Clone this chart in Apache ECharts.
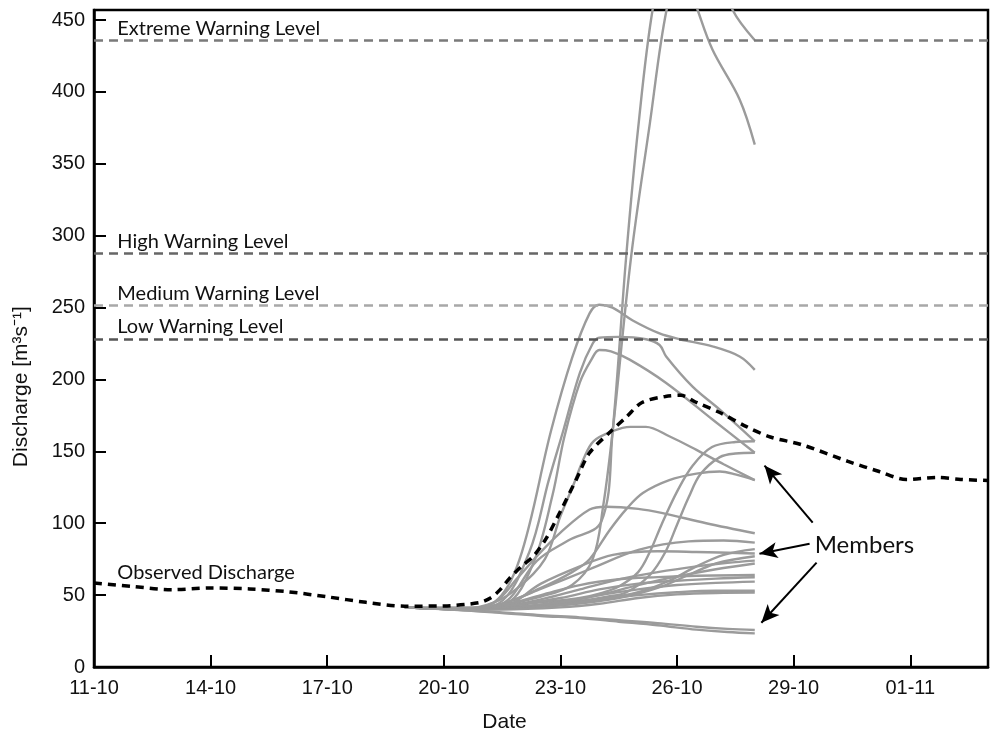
<!DOCTYPE html>
<html><head><meta charset="utf-8">
<script src="https://cdn.jsdelivr.net/npm/echarts@6/dist/echarts.min.js"></script>
<style>html,body{margin:0;padding:0;background:#fff}#c{width:998px;height:741px}</style>
</head><body><div id="c"></div>
<script>
// ---------- DATA ----------
const tickLabels = ['11-10','14-10','17-10','20-10','23-10','26-10','29-10','01-11'];
const yTickValues = [0,50,100,150,200,250,300,350,400,450];

const obsDays   = [0, 1, 2, 3, 4, 5, 6, 7, 8, 9, 9.9, 10.2, 10.45, 10.7, 11.0, 11.3, 11.6, 11.9, 12.4, 12.75, 13.3, 13.7, 14.1, 14.7, 15.1, 15.5, 16.1, 16.8, 17.4, 18.2, 19.4, 20.2, 20.9, 21.7, 22.3, 23];
const obsValues = [58.5, 56, 53.8, 55, 54.3, 52.3, 48.8, 45, 42.3, 42.5, 44.7, 48, 53.8, 62, 70, 77, 88, 103, 130, 149, 164, 174, 184, 188.2, 189, 184, 177, 167, 160, 154.7, 143, 136, 130.4, 131.8, 130.5, 129.7];

const memberP1 = [[8,41.5],[9.5,41],[10.3,45],[10.95,75],[11.76,164.5],[12.3,215],[12.75,246],[13.0,252],[13.34,250],[13.86,241],[14.55,232],[15.07,228],[15.91,223],[16.61,216],[17.0,206.7]];
const memberP2 = [[8,41.5],[9.5,40.5],[10.4,44],[11.2,80],[11.7,130],[12.08,165],[12.5,204.6],[12.83,225],[13.0,229],[13.5,229.6],[14.2,228],[14.55,224],[14.72,216],[15.4,195],[16.1,179],[17.0,157]];
const memberP3 = [[8,41.5],[9.5,40.5],[10.6,44],[11.3,72],[11.8,120],[12.1,160],[12.5,198],[12.8,214],[13.0,220.5],[13.3,219.5],[13.78,213.8],[14.72,197.6],[15.92,172],[17.0,149]];
const memberA  = [[8,41.5],[9.5,40.5],[10.5,44],[11.4,74],[12.2,88],[13.05,101],[13.34,163],[13.69,285],[14.0,375],[14.37,457],[14.7,490],[15.0,492],[15.3,476],[15.53,457],[15.91,429.5],[16.61,394.8],[17.0,363.4]];
const memberB  = [[8,41.5],[9.5,40.5],[10.5,43],[11.5,49],[12.3,57],[12.83,75],[13.1,112],[13.34,163],[13.82,285.7],[14.3,378],[14.73,457],[15.2,500],[15.6,510],[16.0,490],[16.43,457],[17.0,436]];
const memberM1 = [[8,41.5],[9.5,40.5],[10.3,45],[10.9,55],[11.6,75],[12.0,105],[12.32,125.7],[12.6,145],[12.85,157],[13.34,164],[13.8,167],[14.2,167],[14.8,160.5],[15.5,151],[16.2,141],[17.0,130]];
const memberM3 = [[8,41.5],[9.5,40.5],[10.4,43],[11.5,55],[12.3,66],[12.75,75],[13.26,95],[13.7,110],[14.12,121],[14.8,130],[15.5,134.5],[16.1,136],[16.5,134],[17.0,130]];
const memberM4 = [[8,41.5],[9.5,40.5],[10.3,45],[10.9,62],[11.46,79],[11.98,93],[12.75,109.5],[13.18,111.5],[14.0,110],[14.63,107],[15.75,100],[17.0,93]];
const memberL1 = [[8,41.5],[9.5,40],[10.5,42],[11.5,45],[12.5,48],[13.0,51],[13.5,56],[14.0,66],[14.3,80],[14.6,99],[15.0,122],[15.4,140],[15.9,153],[16.5,156.5],[17.0,157]];
const memberL2 = [[8,41.5],[9.5,40],[10.5,41],[11.5,43],[12.5,46],[13.2,49],[13.7,52],[14.3,64],[14.7,80],[15.0,99],[15.3,118],[15.6,134],[16.1,146],[16.5,148.5],[17.0,149]];
const memberB1 = [[8,41.5],[9.5,41],[10.5,44],[11.46,54],[12.75,68],[14.03,81.6],[15.3,87.4],[16.2,88],[17.0,86.5]];
const memberB2 = [[8,41.5],[9.5,40.5],[10.5,41],[12.0,44],[13.0,47],[14.0,52],[14.8,60],[15.5,70],[16.2,78],[17.0,82]];
const memberB3 = [[8,41.5],[9.5,41],[10.5,42],[11.5,58],[12.5,70],[13.35,78],[14.5,80.5],[15.5,80],[17.0,79]];
const memberB4 = [[8,41.5],[9.5,40.5],[10.5,41],[12.0,43],[13.5,48],[14.5,55],[15.3,64],[16.0,72],[17.0,77]];
const memberB5 = [[8,41.5],[9.5,40.5],[10.5,42],[11.5,47],[12.5,54],[13.5,61],[14.5,66],[15.5,70],[16.3,72.5],[17.0,74]];
const memberB6 = [[8,41.5],[9.5,40.5],[10.5,41],[12.0,45],[13.0,50],[14.0,57],[15.0,63],[16.0,68],[17.0,72]];
const memberB7 = [[8,41.5],[9.5,41],[10.5,43],[11.5,50],[12.5,57],[13.5,61],[14.5,62.5],[15.5,63.5],[17.0,64]];
const memberB8 = [[8,41.5],[9.5,40.5],[10.5,42],[12.0,48],[13.0,54],[14.0,58],[15.0,60],[16.0,61.5],[17.0,62.4]];
const memberB9 = [[8,41.5],[9.5,40.5],[10.5,41],[12.0,45],[13.0,50],[14.0,54],[15.0,57],[16.0,58.5],[17.0,59.4]];
const memberB10 = [[8,41.5],[9.5,40],[10.5,40.5],[12.0,43],[13.0,47],[14.0,50],[15.0,52],[16.0,53],[17.0,53]];
const memberB11 = [[8,41.5],[9.5,40],[10.5,40],[12.0,41.5],[13.0,44],[14.0,48],[15.0,50.5],[16.0,51.5],[17.0,51.7]];
const memberB12 = [[8,41.5],[9.5,39.5],[10.5,38],[11.5,36],[12.5,34.5],[13.5,32.5],[14.5,30.5],[15.5,28],[16.3,26.5],[17.0,25.7]];
const memberB13 = [[8,41.5],[9.5,39.5],[10.5,37.5],[11.5,35.5],[12.5,34],[13.5,31.5],[14.5,29],[15.5,26],[16.3,24.3],[17.0,23.4]];

const members = [memberP1, memberP2, memberP3, memberA, memberB, memberM1, memberM3, memberM4, memberL1, memberL2,
  memberB1, memberB2, memberB3, memberB4, memberB5, memberB6, memberB7, memberB8, memberB9, memberB10, memberB11, memberB12, memberB13];

const levelNames  = ['Extreme Warning Level', 'High Warning Level', 'Medium Warning Level', 'Low Warning Level'];
const levelValues = [435.8, 287.8, 251.4, 228.3];

const arrowTails = [[18.49, 100.4], [18.41, 85.8], [18.59, 72.6]];
const arrowTips  = [[17.25, 140.1], [17.12, 78.8], [17.17, 30.8]];
const observedLabel = 'Observed Discharge';
const membersLabel = 'Members';

// ---------- STYLE ----------
const levelColors = ['#7a7a7a', '#666666', '#a8a8a8', '#555555'];
const annotFont = 'Lato, "Open Sans", sans-serif';
const axisFont = '"Liberation Sans", Arial, sans-serif';

const chart = echarts.init(document.getElementById('c'), null, {renderer: 'canvas'});

const series = [];
members.forEach(m => series.push({
  type: 'line', data: m, symbol: 'none', smooth: 0.35, silent: true, z: 2,
  lineStyle: {color: '#9b9b9b', width: 2.4}
}));
series.push({
  type: 'line', data: obsDays.map((d, i) => [d, obsValues[i]]), symbol: 'none', smooth: 0.3, silent: true, z: 4,
  lineStyle: {color: '#000', width: 3.5, type: [8, 6]}
});
series.push({
  type: 'line', data: [], silent: true, z: 1,
  markLine: {
    silent: true, symbol: ['none', 'none'], label: {show: false}, animation: false,
    data: levelValues.map((v, i) => ({yAxis: v, lineStyle: {color: levelColors[i], width: 2.5, type: [9, 6]}}))
  }
});
series.push({
  type: 'line', data: [], silent: true, z: 5,
  markLine: {
    silent: true, symbol: ['none', 'arrow'], symbolSize: [12, 18], label: {show: false}, animation: false,
    lineStyle: {color: '#000', width: 2, type: 'solid'},
    data: arrowTails.map((t, i) => [{coord: t}, {coord: arrowTips[i]}])
  }
});

chart.setOption({
  animation: false,
  grid: {left: 94, right: 10, top: 10, bottom: 74, show: true, borderColor: '#000', borderWidth: 2.5, containLabel: false},
  xAxis: {
    type: 'value', min: 0, max: 23, interval: 3,
    axisLine: {lineStyle: {color: '#000', width: 2.5}},
    axisTick: {inside: true, length: 12, lineStyle: {color: '#000', width: 2}},
    splitLine: {show: false},
    axisLabel: {
      margin: 11, color: '#111', fontSize: 20, fontFamily: axisFont,
      formatter: v => (v % 3 === 0 && v / 3 < tickLabels.length) ? tickLabels[v / 3] : ''
    }
  },
  yAxis: {
    type: 'value', min: 0, max: 457, interval: 50,
    axisLine: {lineStyle: {color: '#000', width: 2.5}},
    axisTick: {inside: true, length: 12, lineStyle: {color: '#000', width: 2}},
    splitLine: {show: false},
    axisLabel: {
      margin: 9, color: '#111', fontSize: 20, fontFamily: axisFont,
      formatter: v => yTickValues.indexOf(v) >= 0 ? String(v) : ''
    }
  },
  series: series
});

const px = (d, v) => chart.convertToPixel({gridIndex: 0}, [d, v]);
const graphics = [];
levelNames.forEach((n, i) => {
  const p = px(0.6, levelValues[i]);
  graphics.push({type: 'text', x: p[0], y: p[1] - 12, silent: true,
    style: {text: n, font: '20px ' + annotFont, fill: '#111', align: 'left', verticalAlign: 'middle'}});
});
const po = px(0.6, 65.5);
graphics.push({type: 'text', x: po[0], y: po[1], silent: true,
  style: {text: observedLabel, font: '20px ' + annotFont, fill: '#111', align: 'left', verticalAlign: 'middle'}});
const pm = px(18.54, 85);
graphics.push({type: 'text', x: pm[0], y: pm[1], silent: true,
  style: {text: membersLabel, font: '24px ' + annotFont, fill: '#111', align: 'left', verticalAlign: 'middle'}});
const pd = px(10.56, 0);
graphics.push({type: 'text', x: pd[0], y: pd[1] + 55, silent: true,
  style: {text: 'Date', font: '21px ' + axisFont, fill: '#111', align: 'center', verticalAlign: 'middle'}});
const pv = px(0, 195);
graphics.push({type: 'text', x: 21, y: pv[1], rotation: Math.PI / 2, silent: true,
  style: {text: 'Discharge [m³s⁻¹]', font: '21px ' + axisFont, fill: '#111', align: 'center', verticalAlign: 'middle'}});
chart.setOption({graphic: graphics});
</script>
</body></html>
